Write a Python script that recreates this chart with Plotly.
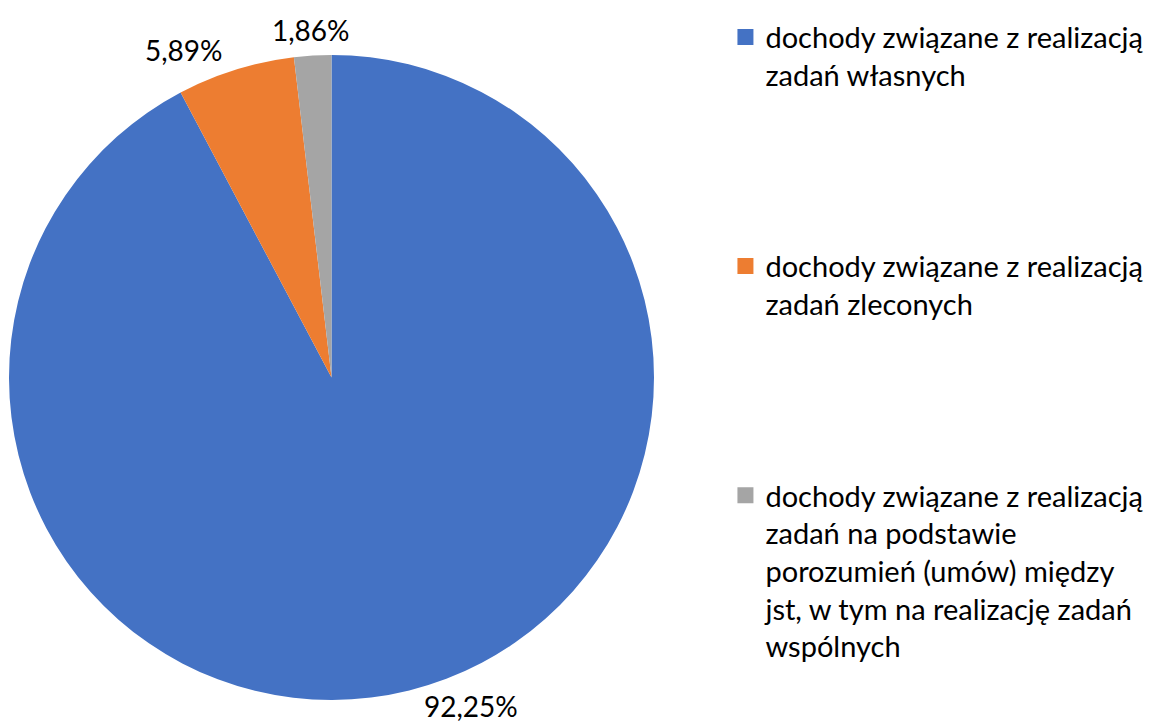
import plotly.graph_objects as go

labels = [
    "dochody związane z realizacją<br>zadań własnych",
    "dochody związane z realizacją<br>zadań zleconych",
    "dochody związane z realizacją<br>zadań na podstawie<br>porozumień (umów) między<br>jst, w tym na realizację zadań<br>wspólnych",
]
values = [92.25, 5.89, 1.86]
text_labels = ["92,25%", "5,89%", "1,86%"]
colors = ["#4472C4", "#ED7D31", "#A5A5A5"]
# label anchor points (paper coords) for the data labels
label_pos = [(471/1157, 1 - 706/722), (184/1157, 1 - 50/722), (311/1157, 1 - 30/722)]

pad = ["<br> <br> <br> <br> ", "<br> <br> <br> <br> ", ""]

fig = go.Figure()
fig.add_trace(go.Pie(
    labels=labels,
    values=values,
    textinfo="none",
    sort=False,
    direction="clockwise",
    rotation=0,
    marker=dict(colors=colors, line=dict(width=0)),
    domain=dict(x=[9/1157, 654/1157], y=[22/722, 667/722]),
    hoverinfo="skip",
    showlegend=False,
))

for lab, p, c in zip(labels, pad, colors):
    fig.add_trace(go.Scatter(
        x=[None], y=[None], mode="markers",
        marker=dict(symbol="square", size=16, color=c),
        name=lab + p, showlegend=True, hoverinfo="skip",
    ))

for t, (px, py) in zip(text_labels, label_pos):
    fig.add_annotation(x=px, y=py, xref="paper", yref="paper",
                       text=t, showarrow=False, xanchor="center", yanchor="middle",
                       font=dict(size=28, color="#000000"))

fig.update_layout(
    width=1157, height=722,
    margin=dict(l=0, r=0, t=0, b=0),
    paper_bgcolor="white", plot_bgcolor="white",
    xaxis=dict(visible=False), yaxis=dict(visible=False),
    font=dict(family="Lato, Open Sans, sans-serif", size=29, color="#000000"),
    showlegend=True,
    legend=dict(
        x=0.627, y=0.984, xanchor="left", yanchor="top",
        valign="top",
        font=dict(size=29),
        itemclick=False, itemdoubleclick=False,
    ),
)

fig.write_html("out.html", config={"displayModeBar": False})

# remove the default page margin so the figure fills the window exactly
with open("out.html", "r", encoding="utf-8") as f:
    html = f.read()
html = html.replace("<body>", '<body style="margin:0;padding:0;overflow:hidden">', 1)
with open("out.html", "w", encoding="utf-8") as f:
    f.write(html)
